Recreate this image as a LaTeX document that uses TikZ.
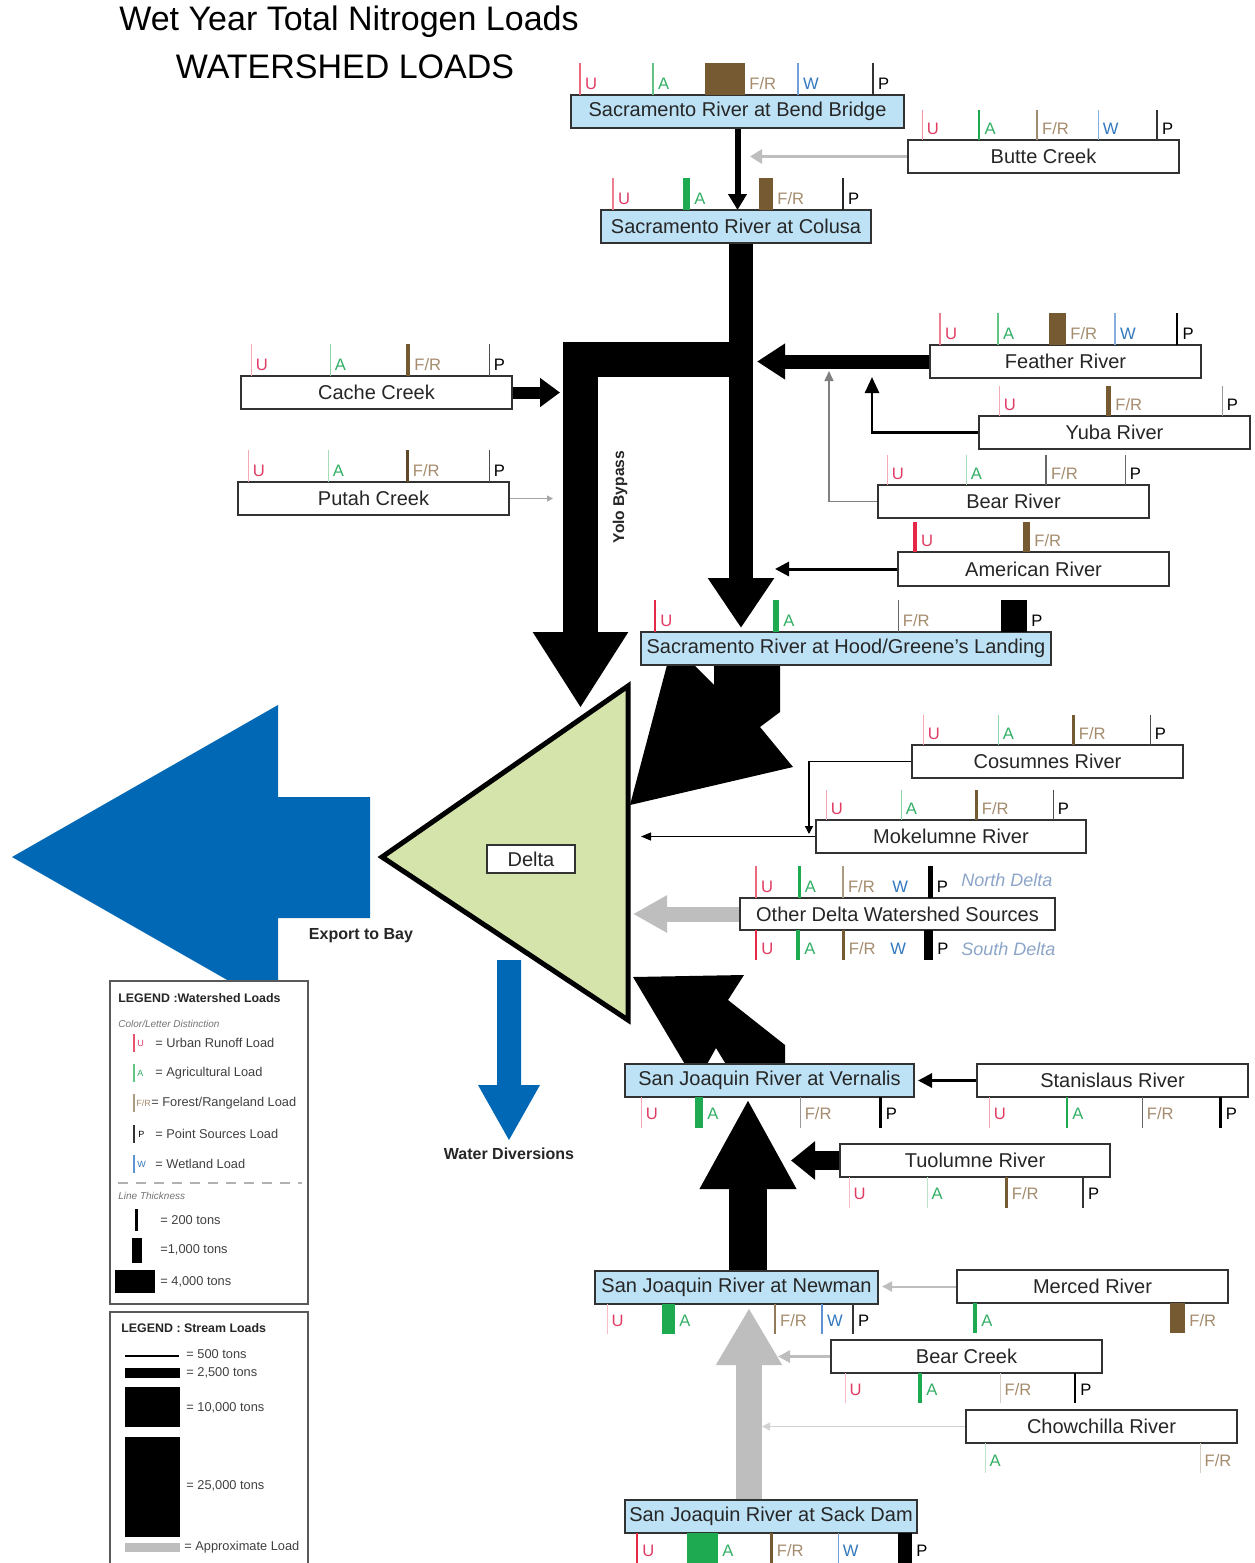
\documentclass[tikz,border=0pt]{standalone}
\usepackage{fontspec}
\setmainfont{Liberation Sans}
\usetikzlibrary{arrows.meta}
\definecolor{stnblue}{RGB}{190,226,245}
\definecolor{deltagreen}{RGB}{212,228,170}
\definecolor{expblue}{RGB}{0,104,180}
\definecolor{cU}{RGB}{228,40,70}
\definecolor{cA}{RGB}{30,170,80}
\definecolor{cF}{RGB}{118,90,50}
\definecolor{cW}{RGB}{50,120,200}
\definecolor{tU}{RGB}{225,60,100}
\definecolor{tA}{RGB}{50,175,100}
\definecolor{tF}{RGB}{165,140,110}
\definecolor{tW}{RGB}{50,120,190}
\definecolor{approx}{RGB}{190,190,190}
\definecolor{bordergray}{RGB}{50,50,50}
\definecolor{ndelta}{RGB}{140,165,200}
\pgfdeclarelayer{bg}
\pgfsetlayers{bg,main}
\newcounter{ldn}
\newcommand\ld[8]{%
  \fill[#5] ({#1-#4/2},#2) rectangle ({#1+#4/2},#3);
  \stepcounter{ldn}%
  \node[lab,text=#7] (ld\theldn) at ({#1+#4/2+4},#8) {#6};}
\newcommand\bx[7]{%
  \node[#1, minimum width={(#4-#2)*0.5pt}, minimum height={(#5-#3)*0.5pt}] (#6) at ({(#2+#4)/2},{(#3+#5)/2}) {#7};}
\begin{document}
\begin{tikzpicture}[x=0.5pt,y=-0.5pt, line join=miter,
  stn/.style={draw=bordergray, line width=1pt, fill=stnblue, inner sep=0pt, outer sep=0pt, font=\fontsize{10}{12}\selectfont, text=black!85},
  wbox/.style={stn, fill=white},
  lab/.style={font=\fontsize{8.3}{9}\selectfont, inner sep=0pt, anchor=base west},
  boldlab/.style={font=\bfseries\fontsize{8}{9}\selectfont, inner sep=0pt, text=black!85},
  legtitle/.style={font=\bfseries\fontsize{6.2}{7}\selectfont, inner sep=0pt, anchor=west, text=black!85},
  legt/.style={font=\fontsize{6.4}{7}\selectfont, inner sep=0pt, anchor=west, text=black!75},
  legi/.style={font=\itshape\fontsize{5}{6}\selectfont, inner sep=0pt, anchor=west, text=black!55},
  legtiny/.style={font=\fontsize{4.5}{5}\selectfont, inner sep=0pt, anchor=west},
  legbox/.style={draw=black!65, line width=1.2pt, fill=white, inner sep=0pt, outer sep=0pt}
]
\useasboundingbox (0,0) rectangle (1254,1563);
\begin{pgfonlayer}{bg}
\fill[white] (0,0) rectangle (1254,1563);
\end{pgfonlayer}

% title
\node[font=\fontsize{17}{20}\selectfont, inner sep=0] (title1) at (349,22) {Wet Year Total Nitrogen Loads};
\node[font=\fontsize{17}{20}\selectfont, inner sep=0] (title2) at (345,67) {WATERSHED LOADS};

% station boxes
\bx{stn}{571}{95}{904}{128}{bend}{Sacramento River at Bend Bridge}
\bx{stn}{601}{210}{871}{243}{colusa}{Sacramento River at Colusa}
\bx{stn}{641}{632}{1051}{665}{hood}{Sacramento River at Hood/Greene's Landing}
\bx{stn}{625}{1064}{914}{1097}{vernalis}{San Joaquin River at Vernalis}
\bx{stn}{595}{1271}{878}{1304}{newman}{San Joaquin River at Newman}
\bx{stn}{625}{1500}{917}{1533}{sackdam}{San Joaquin River at Sack Dam}
% tributary boxes
\bx{wbox}{908}{140}{1179}{173}{butte}{Butte Creek}
\bx{wbox}{930}{345}{1201}{378}{feather}{Feather River}
\bx{wbox}{979}{416}{1250}{449}{yuba}{Yuba River}
\bx{wbox}{878}{485}{1149}{518}{bearr}{Bear River}
\bx{wbox}{898}{552}{1169}{586}{american}{American River}
\bx{wbox}{241}{376}{512}{409}{cache}{Cache Creek}
\bx{wbox}{238}{482}{509}{515}{putah}{Putah Creek}
\bx{wbox}{912}{745}{1183}{778}{cosumnes}{Cosumnes River}
\bx{wbox}{816}{820}{1086}{853}{mokelumne}{Mokelumne River}
\bx{wbox}{740}{898}{1055}{930}{otherds}{Other Delta Watershed Sources}
\bx{wbox}{977}{1064}{1248}{1097}{stanislaus}{Stanislaus River}
\bx{wbox}{840}{1144}{1110}{1177}{tuolumne}{Tuolumne River}
\bx{wbox}{957}{1270}{1228}{1303}{merced}{Merced River}
\bx{wbox}{831}{1340}{1102}{1373}{bearcreek}{Bear Creek}
\bx{wbox}{966}{1410}{1237}{1443}{chowchilla}{Chowchilla River}
\bx{wbox}{487}{845}{575}{873}{delta}{Delta}

% coordinates for connector ends
\coordinate (buttein) at (750,156.5);
\coordinate (yubain) at (872,377);
\coordinate (bearin) at (829,371);
\coordinate (amin) at (775,569);
\coordinate (putahin) at (553,498.5);
\coordinate (cosin) at (809,834);
\coordinate (mokin) at (641,836.5);
\coordinate (stanin) at (918,1080.5);
\coordinate (mercin) at (882,1286.5);
\coordinate (bcin) at (778,1356.5);
\coordinate (chowin) at (762,1426.5);
\coordinate (trunktip) at (741,628);
\coordinate (yolostart) at (741,359.5);
\coordinate (yolotip) at (580.5,708);
\coordinate (feathertip) at (757,361.5);
\coordinate (cachetip) at (560,392.5);
\coordinate (tuoltip) at (791,1160.5);
\coordinate (othertip) at (633,914);
\coordinate (nvtip) at (748,1099);
\coordinate (sdtip) at (749,1308);

\begin{pgfonlayer}{bg}
% export to bay
\fill[expblue] (12,857) -- (278,705) -- (278,797) -- (370,797) -- (370,918) -- (278,918) -- (278,1009) -- cycle;
% water diversions
\fill[expblue] (497,960) -- (521,960) -- (521,1085) -- (540,1085) -- (509,1140) -- (478,1085) -- (497,1085) -- cycle;
% main stream flows
\draw[line width=3pt, -{Triangle[width=9pt,length=8pt]}] (bend.south) -- (bend.south |- colusa.north);
\draw[line width=12pt, -{Triangle[width=31.5pt,length=25pt]}] (colusa.south -| trunktip) -- (trunktip);
\draw[line width=17.5pt, -{Triangle[width=45pt,length=38pt]}] (yolostart) -| (yolotip);
\draw[line width=7pt, -{Triangle[width=17pt,length=14pt]}] (feather.west) -- (feathertip);
\draw[line width=6pt, -{Triangle[width=14pt,length=10pt]}] (cache.east) -- (cachetip);
\draw[line width=9.5pt, -{Triangle[width=18.5pt,length=12pt]}] (tuolumne.west) -- (tuoltip);
\draw[approx, line width=7.5pt, -{Triangle[width=17.5pt,length=17pt]}] (otherds.west) -- (othertip);
\draw[line width=19pt, -{Triangle[width=45pt,length=45pt]}] (newman.north -| nvtip) -- (nvtip);
\draw[approx, line width=13pt, -{Triangle[width=31pt,length=28.5pt]}] (sackdam.north -| sdtip) -- (sdtip);
% Hood to Delta
\fill (667,665) -- (694,665) -- (714,685) -- (714,663) -- (780,663) -- (780,712) -- (760,727) -- (793,767) -- (630,805) -- cycle;
% Vernalis to Delta
\fill (633,977) -- (744,975) -- (728,1000) -- (785,1045) -- (785,1066) -- (727,1066) -- (716,1048) -- (706,1066) -- (686,1066) -- cycle;
% thin tributary flows
\draw[approx, line width=1.5pt, -{Triangle[width=7pt,length=6pt]}] (butte.west) -- (buttein);
\draw[line width=1.3pt, -{Triangle[width=7pt,length=8pt]}] (yuba.west) -| (yubain);
\draw[black!50, line width=0.7pt, -{Triangle[width=4.5pt,length=5pt]}] (bearr.west) -| (bearin);
\draw[line width=1.5pt, -{Triangle[width=7pt,length=7pt]}] (american.west) -- (amin);
\draw[black!35, line width=0.5pt, -{Triangle[width=3pt,length=3pt]}] (putah.east) -- (putahin);
\draw[line width=0.7pt, -{Triangle[width=4pt,length=4pt]}] (cosumnes.west) -| (cosin);
\draw[line width=0.5pt, -{Triangle[width=4pt,length=5pt]}] (mokelumne.west) -- (mokin);
\draw[line width=1.5pt, -{Triangle[width=7pt,length=7pt]}] (stanislaus.west) -- (stanin);
\draw[approx, line width=1pt, -{Triangle[width=5pt,length=5pt]}] (merced.west) -- (mercin);
\draw[approx, line width=1.5pt, -{Triangle[width=6pt,length=6pt]}] (bearcreek.west) -- (bcin);
\draw[approx!70, line width=0.6pt, -{Triangle[width=4pt,length=4pt]}] (chowchilla.west) -- (chowin);
% Delta
\draw[fill=deltagreen, line width=2.5pt] (382,857) -- (628,686) -- (628,1020) -- cycle;
\end{pgfonlayer}

% labels
\node[boldlab] (exptxt) at (361,936) {Export to Bay};
\node[boldlab] (wdtxt) at (509,1154) {Water Diversions};
\node[boldlab, font=\bfseries\fontsize{7.8}{9}\selectfont, rotate=90] (yolo) at (620,497) {Yolo Bypass};

% load bars
\ld{580}{63}{95}{1.5}{cU!70}{U}{tU}{89}
\ld{653}{63}{95}{1.5}{cA!70}{A}{tA}{89}
\ld{725}{63}{95}{40}{cF}{F/R}{tF}{89}
\ld{798}{63}{95}{1.5}{cW!70}{W}{tW}{89}
\ld{873}{63}{95}{1.5}{black!80}{P}{black}{89}

\ld{922}{110}{140}{1}{cU!50}{U}{tU}{134}
\ld{979}{110}{140}{2.5}{cA}{A}{tA}{134}
\ld{1037}{110}{140}{1.5}{cF!70}{F/R}{tF}{134}
\ld{1098}{110}{140}{1}{cW!60}{W}{tW}{134}
\ld{1157}{110}{140}{1.5}{black!80}{P}{black}{134}

\ld{613}{178}{210}{1.2}{cU!60}{U}{tU}{204}
\ld{686.5}{178}{210}{7}{cA}{A}{tA}{204}
\ld{766}{178}{210}{14}{cF}{F/R}{tF}{204}
\ld{843}{178}{210}{1.5}{black!85}{P}{black}{204}

\ld{940}{313}{345}{1.2}{cU!60}{U}{tU}{339}
\ld{998}{313}{345}{1.2}{cA!70}{A}{tA}{339}
\ld{1057.5}{313}{345}{17}{cF}{F/R}{tF}{339}
\ld{1115}{313}{345}{1.2}{cW!60}{W}{tW}{339}
\ld{1177}{313}{345}{2.5}{black}{P}{black}{339}

\ld{999}{386}{416}{0.8}{cU!40}{U}{tU}{410}
\ld{1108.5}{386}{416}{5}{cF}{F/R}{tF}{410}
\ld{1222}{386}{416}{0.8}{black!40}{P}{black}{410}

\ld{887}{455}{485}{0.8}{cU!40}{U}{tU}{479}
\ld{966}{455}{485}{0.8}{cA!40}{A}{tA}{479}
\ld{1046}{455}{485}{1.2}{black!60}{F/R}{tF}{479}
\ld{1125}{455}{485}{1}{black!60}{P}{black}{479}

\ld{915}{522}{552}{3.5}{cU}{U}{tU}{546}
\ld{1026.5}{522}{552}{7}{cF}{F/R}{tF}{546}

\ld{251}{344}{376}{0.8}{cU!40}{U}{tU}{370}
\ld{330}{344}{376}{1}{cA!50}{A}{tA}{370}
\ld{408}{344}{376}{4}{cF}{F/R}{tF}{370}
\ld{489}{344}{376}{1}{black!70}{P}{black}{370}

\ld{248}{450}{482}{0.8}{cU!40}{U}{tU}{476}
\ld{328}{450}{482}{0.8}{cA!40}{A}{tA}{476}
\ld{407}{450}{482}{3}{cF!80!black}{F/R}{tF}{476}
\ld{489}{450}{482}{1}{black!70}{P}{black}{476}

\ld{655}{600}{632}{2}{cU}{U}{tU}{626}
\ld{776}{600}{632}{6}{cA}{A}{tA}{626}
\ld{898}{600}{632}{1}{black!60}{F/R}{tF}{626}
\ld{1014}{600}{632}{26}{black}{P}{black}{626}

\ld{923}{715}{745}{0.8}{cU!40}{U}{tU}{739}
\ld{998}{715}{745}{1}{cA!50}{A}{tA}{739}
\ld{1073}{715}{745}{3}{cF}{F/R}{tF}{739}
\ld{1150}{715}{745}{1}{black!70}{P}{black}{739}

\ld{826}{790}{820}{0.8}{cU!40}{U}{tU}{814}
\ld{901}{790}{820}{1}{cA!50}{A}{tA}{814}
\ld{976}{790}{820}{3}{cF}{F/R}{tF}{814}
\ld{1053}{790}{820}{1}{black!70}{P}{black}{814}

\ld{756}{866}{898}{1.2}{cU!70}{U}{tU}{892}
\ld{799}{866}{898}{3}{cA}{A}{tA}{892}
\ld{843}{866}{898}{1.2}{cF!60}{F/R}{tF}{892}
\node[lab,text=tW] (wn) at (892,892) {W};
\ld{930}{866}{898}{5}{black}{P}{black}{892}
\node[lab, font=\itshape\fontsize{9}{10}\selectfont, text=ndelta] (ndtxt) at (961,886) {North Delta};

\ld{756}{930}{960}{2}{cU}{U}{tU}{954}
\ld{798}{930}{960}{4}{cA}{A}{tA}{954}
\ld{843}{930}{960}{3}{cF}{F/R}{tF}{954}
\node[lab,text=tW] (ws) at (890,954) {W};
\ld{928.5}{930}{960}{9}{black}{P}{black}{954}
\node[lab, font=\itshape\fontsize{9}{10}\selectfont, text=ndelta] (sdtxt) at (961,955) {South Delta};

\ld{641}{1097}{1128}{0.8}{cU!40}{U}{tU}{1119}
\ld{699}{1097}{1128}{8}{cA}{A}{tA}{1119}
\ld{800}{1097}{1128}{0.8}{black!40}{F/R}{tF}{1119}
\ld{880}{1097}{1128}{3}{black}{P}{black}{1119}

\ld{989}{1097}{1128}{0.8}{cU!40}{U}{tU}{1119}
\ld{1067}{1097}{1128}{2}{cA}{A}{tA}{1119}
\ld{1142}{1097}{1128}{1}{black!60}{F/R}{tF}{1119}
\ld{1220}{1097}{1128}{3}{black}{P}{black}{1119}

\ld{849}{1177}{1208}{0.6}{cU!30}{U}{tU}{1199}
\ld{927}{1177}{1208}{0.6}{cA!30}{A}{tA}{1199}
\ld{1006}{1177}{1208}{3}{cF}{F/R}{tF}{1199}
\ld{1083}{1177}{1208}{1.2}{black!80}{P}{black}{1199}

\ld{607}{1304}{1334}{0.6}{cU!30}{U}{tU}{1326}
\ld{668.5}{1304}{1334}{13}{cA}{A}{tA}{1326}
\ld{775}{1304}{1334}{1.5}{cF!80}{F/R}{tF}{1326}
\ld{822}{1304}{1334}{1.2}{cW!80}{W}{tW}{1326}
\ld{853}{1304}{1334}{1.2}{black!80}{P}{black}{1326}

\ld{975}{1303}{1333}{4}{cA}{A}{tA}{1326}
\ld{1177.5}{1303}{1333}{15}{cF}{F/R}{tF}{1326}

\ld{845}{1373}{1403}{0.6}{cU!30}{U}{tU}{1395}
\ld{920}{1373}{1403}{4}{cA}{A}{tA}{1395}
\ld{1000}{1373}{1403}{0.6}{cF!30}{F/R}{tF}{1395}
\ld{1075}{1373}{1403}{2}{black}{P}{black}{1395}

\ld{985}{1443}{1473}{0.6}{cA!30}{A}{tA}{1466}
\ld{1200}{1443}{1473}{0.6}{cF!30}{F/R}{tF}{1466}

\ld{637}{1533}{1563}{2}{cU}{U}{tU}{1556}
\ld{702.5}{1533}{1563}{31}{cA}{A}{tA}{1556}
\ld{771}{1533}{1563}{3}{cF}{F/R}{tF}{1556}
\ld{838}{1533}{1563}{1}{cW!70}{W}{tW}{1556}
\ld{905}{1533}{1563}{14}{black}{P}{black}{1556}

% legend: watershed loads
\bx{legbox}{110}{981}{308}{1304}{leg1}{}
\node[legtitle] (leg1t) at (118,998) {LEGEND :Watershed Loads};
\node[legi] (leg1c) at (118,1024) {Color/Letter Distinction};
\fill[cU!80] (133,1034) rectangle (134.5,1052);
\node[legtiny, text=tU] (lgu) at (137,1043) {U};
\node[legt] (lgut) at (155,1043) {= Urban Runoff Load};
\fill[cA!70] (133,1064) rectangle (134.5,1082);
\node[legtiny, text=tA] (lga) at (137,1073) {A};
\node[legt] (lgat) at (155,1073) {= Agricultural Load};
\fill[cF!60] (133,1094) rectangle (134.5,1112);
\node[legtiny, text=tF] (lgf) at (136,1103) {F/R};
\node[legt] (lgft) at (151,1103) {= Forest/Rangeland Load};
\fill[black!80] (132.5,1125) rectangle (135,1143);
\node[legtiny, text=black] (lgp) at (138,1134) {P};
\node[legt] (lgpt) at (155,1134) {= Point Sources Load};
\fill[cW!80] (133,1155) rectangle (134.5,1173);
\node[legtiny, text=tW] (lgw) at (137,1164) {W};
\node[legt] (lgwt) at (155,1164) {= Wetland Load};
\draw[black!30, line width=0.7pt, dash pattern=on 5pt off 4pt] (118,1183) -- (302,1183);
\node[legi] (leg1l) at (118,1196) {Line Thickness};
\fill (135,1209) rectangle (138,1231);
\node[legt] (lg200) at (160,1220) {= 200 tons};
\fill (132,1238) rectangle (142,1263);
\node[legt] (lg1000) at (160,1250) {=1,000 tons};
\fill (115,1270) rectangle (155,1293);
\node[legt] (lg4000) at (160,1282) {= 4,000 tons};

% legend: stream loads
\bx{legbox}{110}{1312}{308}{1575}{leg2}{}
\node[legtitle] (leg2t) at (121,1328) {LEGEND : Stream Loads};
\draw[line width=0.8pt] (125,1356) -- (179,1356);
\node[legt] (lg500) at (186,1354) {= 500 tons};
\fill (125,1368) rectangle (180,1378);
\node[legt] (lg2500) at (186,1373) {= 2,500 tons};
\fill (125,1387) rectangle (180,1427);
\node[legt] (lg10000) at (186,1408) {= 10,000 tons};
\fill (125,1437) rectangle (180,1537);
\node[legt] (lg25000) at (186,1486) {= 25,000 tons};
\fill[approx] (125,1543) rectangle (180,1552);
\node[legt] (lgapp) at (184,1547) {= Approximate Load};
\end{tikzpicture}
\end{document}
